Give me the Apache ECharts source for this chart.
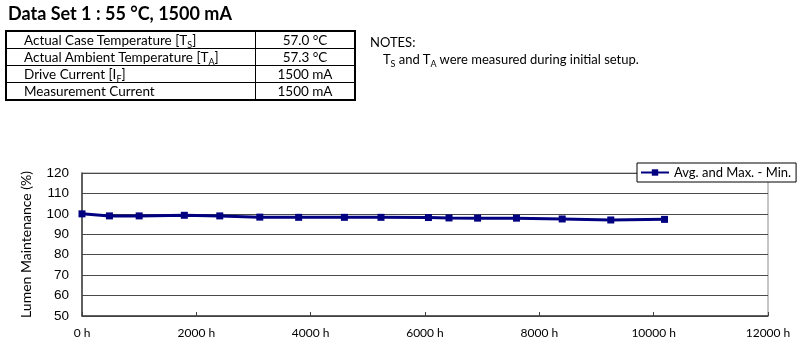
<!DOCTYPE html>
<html><head><meta charset="utf-8">
<script src="https://cdn.jsdelivr.net/npm/echarts@6/dist/echarts.min.js"></script>
<style>
html,body{margin:0;padding:0;background:#fff;}
#wrap{position:relative;width:800px;height:360px;overflow:hidden;font-family:Lato,"Open Sans",sans-serif;color:#000;}
#chart{position:absolute;left:0;top:0;width:800px;height:360px;}
#title{position:absolute;left:8px;top:2px;font-weight:bold;font-size:18px;white-space:nowrap;}
#tbl{position:absolute;left:5px;top:30px;border-collapse:collapse;border:2px solid #000;font-size:13.5px;}
#tbl td{border:1px solid #000;height:16px;padding:0;line-height:16px;}
#tbl td.a{width:231px;padding-left:17px;}
#tbl td.b{width:98px;text-align:center;}
sub{font-size:9px;vertical-align:-3px;line-height:0;}
#notes{position:absolute;left:370px;top:34px;font-size:13px;line-height:17px;white-space:nowrap;}
</style></head>
<body><div id="wrap">
<div id="chart"></div>
<div id="title">Data Set 1 : 55 °C, 1500 mA</div>
<table id="tbl">
<tr><td class="a">Actual Case Temperature [T<sub>S</sub>]</td><td class="b">57.0 °C</td></tr>
<tr><td class="a">Actual Ambient Temperature [T<sub>A</sub>]</td><td class="b">57.3 °C</td></tr>
<tr><td class="a">Drive Current [I<sub>F</sub>]</td><td class="b">1500 mA</td></tr>
<tr><td class="a">Measurement Current</td><td class="b">1500 mA</td></tr>
</table>
<div id="notes">NOTES:<br>&nbsp;&nbsp;&nbsp;&nbsp;T<sub>S</sub> and T<sub>A</sub> were measured during initial setup.</div>
</div>
<script>
const hours = [0, 480, 1000, 1790, 2410, 3110, 3790, 4590, 5230, 6060, 6420, 6920, 7600, 8400, 9250, 10190];
const lumen = [100, 99.0, 99.0, 99.3, 99.0, 98.4, 98.3, 98.3, 98.3, 98.2, 98.0, 97.9, 97.9, 97.5, 97.0, 97.3];
const seriesName = 'Avg. and Max. - Min.';
const yName = 'Lumen Maintenance (%)';

const chart = echarts.init(document.getElementById('chart'));
chart.setOption({
  animation: false,
  grid: {left: 82, right: 32, top: 173, bottom: 44, show: true, borderColor: '#8c8c8c', borderWidth: 1, backgroundColor: 'transparent'},
  legend: {
    left: 637, top: 163, itemWidth: 28, itemHeight: 8, itemGap: 4,
    padding: [3, 5, 3, 3],
    backgroundColor: '#fff', borderColor: '#000', borderWidth: 1, borderRadius: 0,
    textStyle: {fontFamily: 'Lato', fontSize: 13, color: '#000'},
    data: [seriesName], z: 10
  },
  xAxis: {
    type: 'value', min: 0, max: 12000, interval: 2000,
    axisLine: {lineStyle: {color: '#404040', width: 1.5}},
    axisTick: {inside: true, length: 4, lineStyle: {color: '#404040'}},
    splitLine: {show: false},
    axisLabel: {formatter: v => v + ' h', fontFamily: 'Lato', fontSize: 12, color: '#000', margin: 11}
  },
  yAxis: {
    type: 'value', min: 50, max: 120, interval: 10,
    name: yName, nameLocation: 'middle', nameGap: 49,
    nameTextStyle: {fontFamily: 'Lato', fontSize: 14, color: '#000'},
    axisLine: {show: true, lineStyle: {color: '#404040', width: 1.5}},
    axisTick: {show: false},
    splitLine: {lineStyle: {color: '#4a4a4a', width: 1}},
    axisLabel: {fontFamily: 'Liberation Sans', fontSize: 13.5, color: '#000', margin: 13}
  },
  series: [{
    name: seriesName, type: 'line',
    data: hours.map((h, i) => [h, lumen[i]]),
    symbol: 'rect', symbolSize: 7,
    lineStyle: {color: '#000080', width: 3},
    itemStyle: {color: '#000080'},
    z: 5
  }]
});
</script>
</body></html>
